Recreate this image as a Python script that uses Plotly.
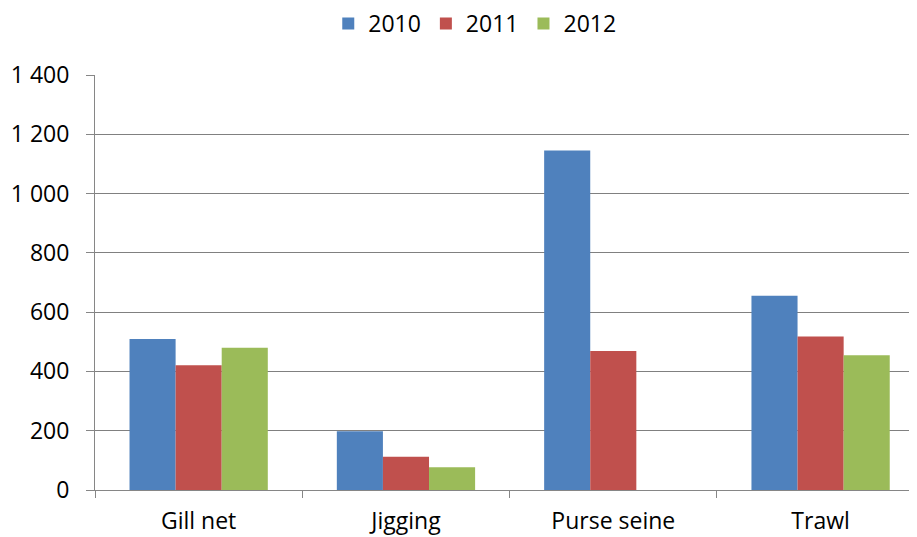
import plotly.graph_objects as go

categories = ["Gill net", "Jigging", "Purse seine", "Trawl"]
years = ["2010", "2011", "2012"]
values_2010 = [509, 198, 1145, 655]
values_2011 = [421, 112, 469, 518]
values_2012 = [480, 77, None, 455]
colors = ["#4F81BD", "#C0504D", "#9BBB59"]
y_ticks = [0, 200, 400, 600, 800, 1000, 1200, 1400]

font_family = "'Open Sans', sans-serif"

fig = go.Figure()
for name, vals, col in zip(years, [values_2010, values_2011, values_2012], colors):
    fig.add_trace(go.Bar(
        x=categories, y=vals, name=name,
        marker=dict(color=col, line=dict(width=0)),
    ))

# The page body has an 8px default margin, so the figure is sized and
# positioned to compensate.
fig.update_layout(
    width=909, height=529,
    margin=dict(l=87, r=0, t=67, b=47, autoexpand=False),
    paper_bgcolor="white", plot_bgcolor="white",
    barmode="group", bargap=0.333, bargroupgap=0,
    separators=". ",
    font=dict(family=font_family, size=23, color="black"),
    showlegend=True,
    legend=dict(
        orientation="h", x=0.462, xanchor="center",
        y=1.176, yanchor="top", yref="paper",
        font=dict(size=23), itemwidth=30,
        traceorder="normal",
    ),
    xaxis=dict(
        type="category",
        range=[-0.5, 3.465],
        showline=True, linecolor="#868686", linewidth=1,
        ticks="outside", tickson="boundaries", ticklen=7, tickcolor="#868686",
        showgrid=False, automargin=False,
        tickfont=dict(size=23),
        ticklabelstandoff=10,
    ),
    yaxis=dict(
        range=[0, 1400],
        tickvals=y_ticks,
        tickformat=",d",
        showline=True, linecolor="#868686", linewidth=1,
        ticks="outside", ticklen=8, tickcolor="#868686",
        showgrid=True, gridcolor="#808080", gridwidth=1,
        zeroline=False, automargin=False,
        tickfont=dict(size=23),
        ticklabelstandoff=12,
    ),
)

fig.write_html("out.html")
